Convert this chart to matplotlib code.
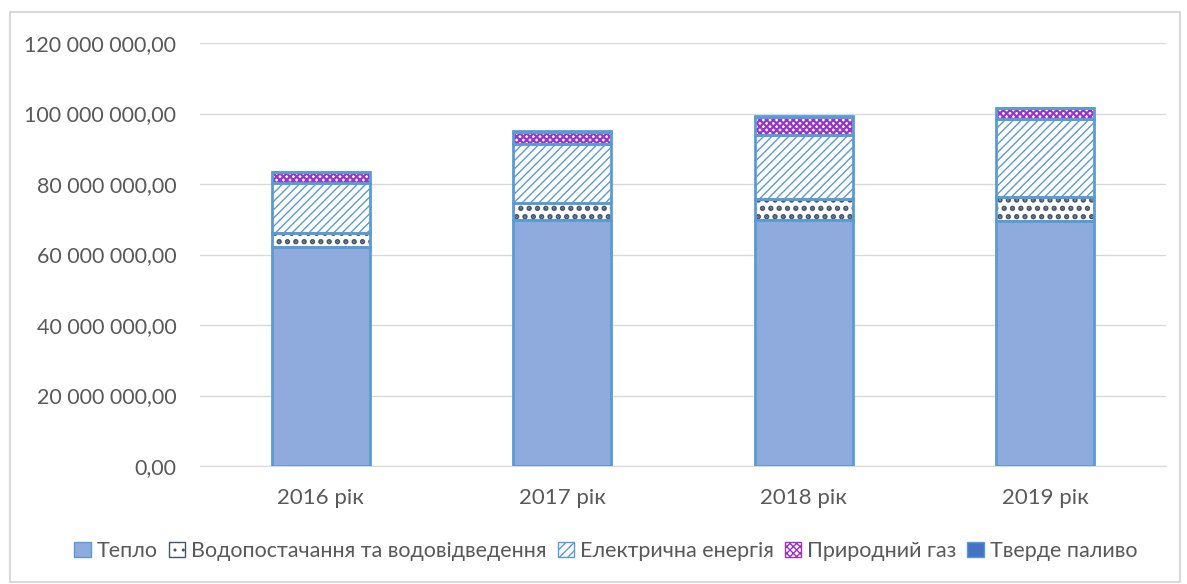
import matplotlib
matplotlib.use("Agg")
import matplotlib.pyplot as plt
from matplotlib.patches import Rectangle, Patch
from matplotlib.ticker import FuncFormatter
import numpy as np

categories = ["2016 рік", "2017 рік", "2018 рік", "2019 рік"]
teplo = [62.1e6, 69.8e6, 69.8e6, 69.6e6]
voda = [4.0e6, 4.9e6, 5.9e6, 6.8e6]
elektro = [14.2e6, 16.6e6, 18.2e6, 22.0e6]
gaz = [3.1e6, 3.5e6, 5.2e6, 3.1e6]
tverde = [0.1e6, 0.1e6, 0.1e6, 0.1e6]
series_names = ["Тепло", "Водопостачання та водовідведення", "Електрична енергія",
                "Природний газ", "Тверде паливо"]

plt.rcParams['font.family'] = ['Lato', 'DejaVu Sans']

fig = plt.figure(figsize=(11.87, 5.84), dpi=100)
ax = fig.add_axes([200/1187, 1-466/584, 966/1187, 423/584])

x = np.arange(len(categories))
w = 0.405
edge = '#5B9BD5'
series = [teplo, voda, elektro, gaz, tverde]
faces = ['#8FAADC', 'white', 'white', 'white', '#4472C4']
hatches = [None, '..', '////', 'xxxxx', None]
hcols = [None, '#44546A', '#5B9BD5', '#9933CC', None]
hlws = [1.0, 2.6, 1.0, 1.6, 1.0]

bottom = np.zeros(len(categories))
for vals, fc, h, hc, hl in zip(series, faces, hatches, hcols, hlws):
    vals = np.array(vals)
    with plt.rc_context({'hatch.linewidth': hl}):
        if h is not None:
            ax.bar(x, vals, w, bottom=bottom, color=fc, edgecolor=hc, hatch=h, linewidth=0, zorder=3)
        else:
            ax.bar(x, vals, w, bottom=bottom, color=fc, linewidth=0, zorder=3)
    ax.bar(x, vals, w, bottom=bottom, facecolor='none', edgecolor=edge, linewidth=2, zorder=4)
    bottom += vals

ax.set_xlim(-0.5, 3.5)
ax.set_ylim(0, 120e6)
ax.set_yticks(np.arange(0, 120e6 + 1, 20e6))
def fmt(v, pos):
    s = f"{v:,.2f}".replace(",", " ").replace(".", ",")
    return s
ax.yaxis.set_major_formatter(FuncFormatter(fmt))
ax.set_xticks(x)
ax.set_xticklabels(categories)
ax.grid(axis='y', color='#D9D9D9', linewidth=1, zorder=0)
for s in ['top', 'right', 'left']:
    ax.spines[s].set_visible(False)
ax.spines['bottom'].set_color('#D9D9D9')
ax.tick_params(axis='y', length=0, labelsize=15.5, colors='#595959', pad=17)
ax.tick_params(axis='x', length=0, labelsize=16, colors='#595959', pad=16)

handles = []
for n, fc, h, hc in zip(series_names, faces, hatches, hcols):
    if h is None:
        handles.append(Patch(facecolor=fc, edgecolor=edge, linewidth=1, label=n))
    else:
        handles.append(Patch(facecolor=fc, edgecolor=hc, hatch=h, linewidth=1, label=n))
leg = fig.legend(handles=handles, loc='center', bbox_to_anchor=(606/1187, 1-551/584), ncol=5,
                 frameon=False, fontsize=15.5, handlelength=0.75, handleheight=0.75,
                 handletextpad=0.3, columnspacing=0.5, labelcolor='#595959')

fig.patches.append(Rectangle((10/1187, 1-582/584), 1170/1187, 570/584, transform=fig.transFigure,
                             fill=False, edgecolor='#D9D9D9', linewidth=1.5))

fig.savefig("out.png", dpi=100)
